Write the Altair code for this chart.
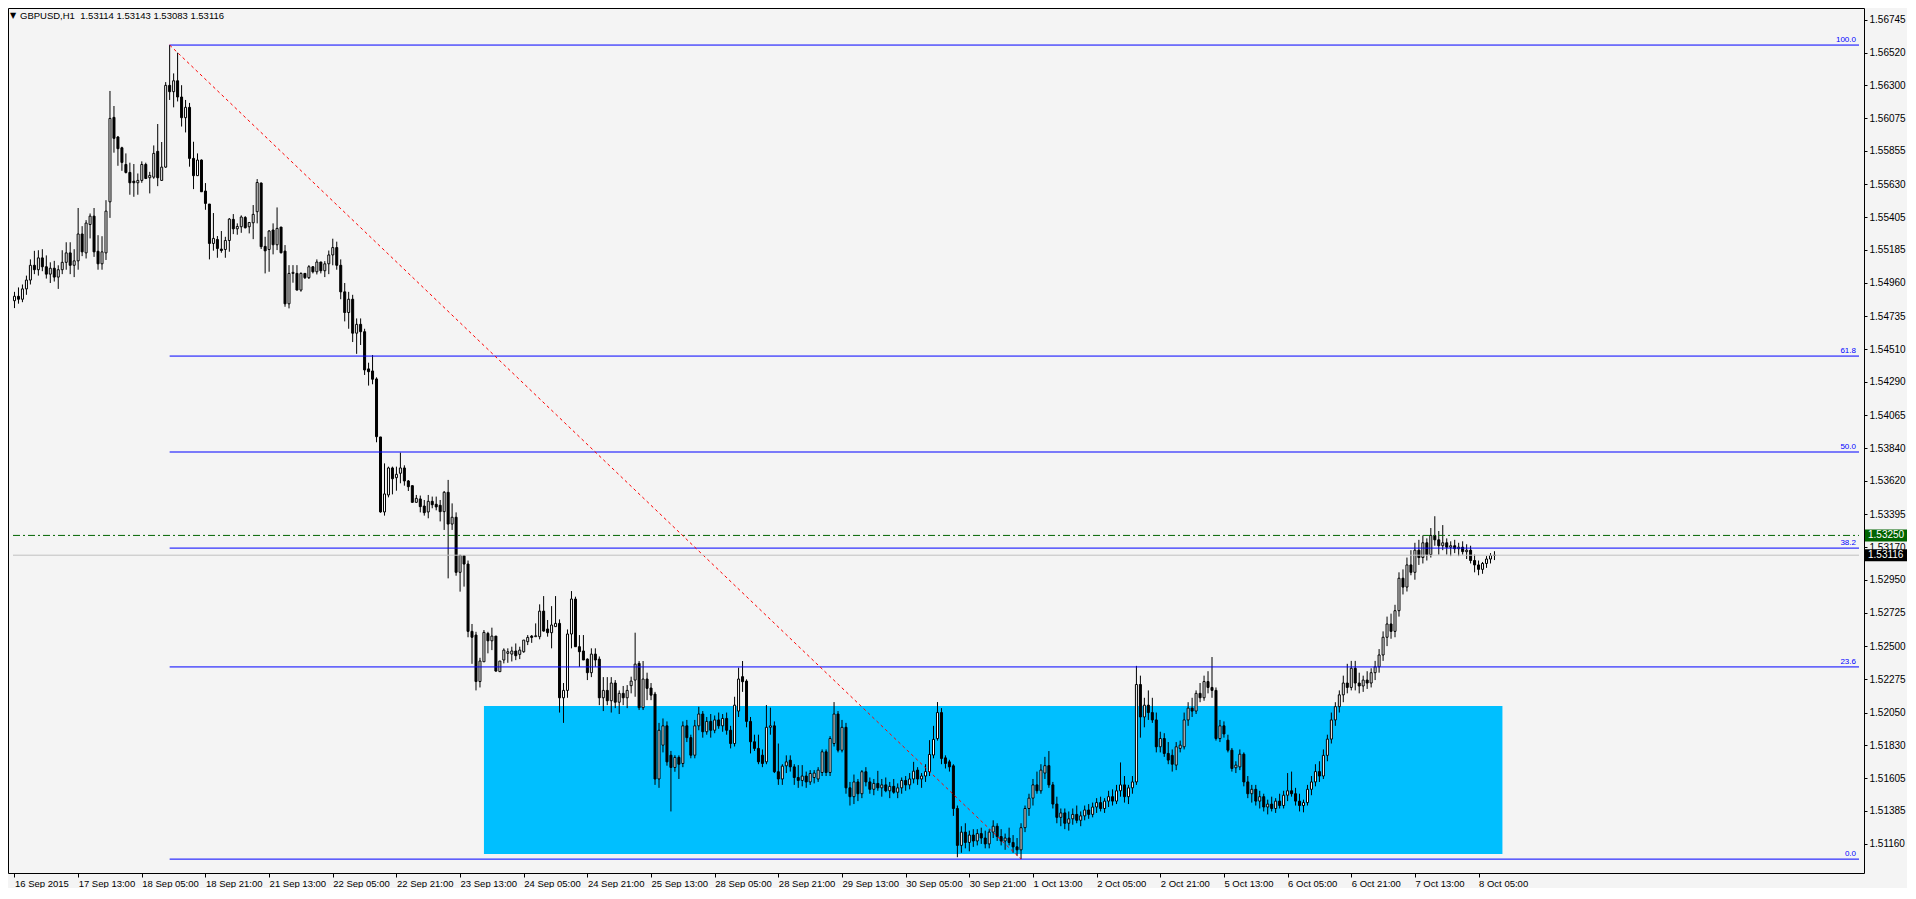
import json
import altair as alt
import pandas as pd

# ---------------- data (hourly GBPUSD candles) ----------------
OPEN = [
    1.54840, 1.54870, 1.54850, 1.54920, 1.54980, 1.55080, 1.55050, 1.55130, 1.55070, 1.55020,
    1.55060, 1.55000, 1.55050, 1.55100, 1.55164, 1.55080, 1.55110, 1.55292, 1.55164, 1.55356,
    1.55413, 1.55175, 1.55090, 1.55164, 1.55510, 1.56082, 1.55949, 1.55876, 1.55763, 1.55709,
    1.55650, 1.55639, 1.55655, 1.55763, 1.55673, 1.55677, 1.55852, 1.55655, 1.55745, 1.56299,
    1.56256, 1.56330, 1.56220, 1.56080, 1.56150, 1.55804, 1.55687, 1.55793, 1.55583, 1.55495,
    1.55228, 1.55255, 1.55190, 1.55187, 1.55248, 1.55391, 1.55327, 1.55341, 1.55404, 1.55341,
    1.55368, 1.55443, 1.55637, 1.55208, 1.55187, 1.55319, 1.55219, 1.55339, 1.55176, 1.54819,
    1.55025, 1.55025, 1.54912, 1.55025, 1.54996, 1.55070, 1.55036, 1.55102, 1.55043, 1.55090,
    1.55150, 1.55200, 1.55080, 1.54900, 1.54760, 1.54850, 1.54620, 1.54680, 1.54630, 1.54378,
    1.54364, 1.54310, 1.53917, 1.53409, 1.53524, 1.53707, 1.53641, 1.53671, 1.53707, 1.53619,
    1.53587, 1.53474, 1.53497, 1.53449, 1.53409, 1.53481, 1.53461, 1.53454, 1.53411, 1.53542,
    1.53327, 1.53373, 1.53000, 1.53113, 1.53056, 1.52600, 1.52575, 1.52260, 1.52394, 1.52586,
    1.52536, 1.52568, 1.52327, 1.52406, 1.52451, 1.52446, 1.52467, 1.52444, 1.52462, 1.52530,
    1.52568, 1.52564, 1.52564, 1.52737, 1.52616, 1.52591, 1.52632, 1.52654, 1.52150, 1.52200,
    1.52582, 1.52819, 1.52496, 1.52467, 1.52412, 1.52320, 1.52446, 1.52412, 1.52150, 1.52200,
    1.52130, 1.52250, 1.52120, 1.52180, 1.52150, 1.52232, 1.52270, 1.52383, 1.52083, 1.52277,
    1.52216, 1.52175, 1.51600, 1.51829, 1.51960, 1.51761, 1.51678, 1.51746, 1.51705, 1.51960,
    1.51880, 1.51761, 1.51960, 1.52040, 1.51920, 1.51990, 1.51930, 1.52000, 1.51960, 1.52010,
    1.51930, 1.51840, 1.52060, 1.52293, 1.52263, 1.51990, 1.51852, 1.51807, 1.51761, 1.51716,
    1.51950, 1.51960, 1.51649, 1.51600, 1.51689, 1.51727, 1.51682, 1.51610, 1.51590, 1.51620,
    1.51580, 1.51610, 1.51600, 1.51644, 1.51784, 1.51644, 1.51840, 1.52040, 1.51795, 1.51950,
    1.51540, 1.51480, 1.51580, 1.51500, 1.51649, 1.51580, 1.51530, 1.51570, 1.51540, 1.51560,
    1.51520, 1.51550, 1.51510, 1.51540, 1.51590, 1.51560, 1.51600, 1.51660, 1.51600, 1.51620,
    1.51650, 1.51762, 1.51874, 1.52050, 1.51743, 1.51716, 1.51689, 1.51400, 1.51150, 1.51240,
    1.51170, 1.51220, 1.51180, 1.51230, 1.51200, 1.51160, 1.51240, 1.51280, 1.51210, 1.51180,
    1.51200, 1.51170, 1.51140, 1.51120, 1.51270, 1.51400, 1.51470, 1.51560, 1.51520, 1.51640,
    1.51690, 1.51560, 1.51430, 1.51340, 1.51370, 1.51300, 1.51330, 1.51360, 1.51320, 1.51350,
    1.51390, 1.51360, 1.51410, 1.51440, 1.51400, 1.51450, 1.51480, 1.51450, 1.51520, 1.51560,
    1.51480, 1.51540, 1.51580, 1.52240, 1.52020, 1.52100, 1.52050, 1.52000, 1.51818, 1.51874,
    1.51773, 1.51760, 1.51694, 1.51807, 1.51818, 1.52000, 1.52080, 1.52060, 1.52180, 1.52150,
    1.52260, 1.52220, 1.52200, 1.51874, 1.51960, 1.51863, 1.51795, 1.51676, 1.51682, 1.51768,
    1.51580, 1.51500, 1.51530, 1.51450, 1.51480, 1.51410, 1.51430, 1.51400, 1.51450, 1.51420,
    1.51490, 1.51520, 1.51500, 1.51450, 1.51420, 1.51440, 1.51530, 1.51580, 1.51650, 1.51620,
    1.51760, 1.51870, 1.52000, 1.52090, 1.52170, 1.52250, 1.52220, 1.52350, 1.52250, 1.52230,
    1.52270, 1.52250, 1.52320, 1.52360, 1.52440, 1.52560, 1.52650, 1.52600, 1.52740, 1.52960,
    1.52900, 1.53050, 1.53000, 1.53150, 1.53100, 1.53200, 1.53120, 1.53250, 1.53220, 1.53180,
    1.53200, 1.53170, 1.53180, 1.53160, 1.53170, 1.53140, 1.53150, 1.53080, 1.53050, 1.53020,
    1.53060, 1.53090, 1.53114,
]
HIGH = [
    1.54900, 1.54930, 1.54950, 1.55010, 1.55120, 1.55178, 1.55182, 1.55189, 1.55147, 1.55100,
    1.55110, 1.55080, 1.55182, 1.55236, 1.55236, 1.55189, 1.55468, 1.55345, 1.55386, 1.55431,
    1.55468, 1.55284, 1.55277, 1.55521, 1.56261, 1.56159, 1.55956, 1.55883, 1.55838, 1.55775,
    1.55766, 1.55702, 1.55784, 1.55775, 1.55713, 1.55892, 1.56037, 1.55915, 1.56321, 1.56572,
    1.56380, 1.56520, 1.56300, 1.56200, 1.56180, 1.55917, 1.55838, 1.55797, 1.55637, 1.55495,
    1.55434, 1.55278, 1.55312, 1.55273, 1.55400, 1.55427, 1.55364, 1.55418, 1.55413, 1.55370,
    1.55488, 1.55664, 1.55641, 1.55273, 1.55319, 1.55364, 1.55472, 1.55339, 1.55217, 1.55081,
    1.55081, 1.55081, 1.55032, 1.55025, 1.55081, 1.55075, 1.55120, 1.55104, 1.55108, 1.55180,
    1.55260, 1.55240, 1.55120, 1.54960, 1.54900, 1.54880, 1.54720, 1.54720, 1.54650, 1.54420,
    1.54472, 1.54321, 1.53917, 1.53738, 1.53716, 1.53716, 1.53716, 1.53811, 1.53725, 1.53625,
    1.53587, 1.53524, 1.53520, 1.53490, 1.53524, 1.53513, 1.53513, 1.53490, 1.53551, 1.53626,
    1.53467, 1.53406, 1.53117, 1.53117, 1.53080, 1.52650, 1.52597, 1.52421, 1.52609, 1.52597,
    1.52625, 1.52568, 1.52399, 1.52485, 1.52485, 1.52496, 1.52518, 1.52496, 1.52541, 1.52575,
    1.52575, 1.52654, 1.52783, 1.52839, 1.52677, 1.52771, 1.52839, 1.52681, 1.52250, 1.52613,
    1.52873, 1.52835, 1.52575, 1.52575, 1.52417, 1.52485, 1.52485, 1.52430, 1.52290, 1.52290,
    1.52290, 1.52270, 1.52200, 1.52230, 1.52236, 1.52293, 1.52591, 1.52399, 1.52399, 1.52320,
    1.52250, 1.52190, 1.51980, 1.52010, 1.51990, 1.51790, 1.51761, 1.51760, 1.51990, 1.52000,
    1.51900, 1.52000, 1.52089, 1.52060, 1.52020, 1.52040, 1.52030, 1.52050, 1.52040, 1.52050,
    1.51960, 1.52157, 1.52354, 1.52399, 1.52275, 1.52020, 1.51900, 1.51900, 1.51800, 1.52101,
    1.52083, 1.51990, 1.51840, 1.51700, 1.51760, 1.51760, 1.51700, 1.51694, 1.51694, 1.51650,
    1.51660, 1.51660, 1.51680, 1.51800, 1.51800, 1.51890, 1.52121, 1.52060, 1.52000, 1.51980,
    1.51580, 1.51630, 1.51600, 1.51660, 1.51680, 1.51610, 1.51600, 1.51655, 1.51600, 1.51610,
    1.51580, 1.51600, 1.51570, 1.51610, 1.51620, 1.51640, 1.51716, 1.51680, 1.51640, 1.51700,
    1.51863, 1.51960, 1.52121, 1.52080, 1.51760, 1.51730, 1.51700, 1.51420, 1.51280, 1.51300,
    1.51250, 1.51260, 1.51260, 1.51270, 1.51250, 1.51260, 1.51320, 1.51300, 1.51260, 1.51230,
    1.51270, 1.51220, 1.51200, 1.51300, 1.51420, 1.51500, 1.51600, 1.51650, 1.51700, 1.51750,
    1.51789, 1.51580, 1.51480, 1.51400, 1.51400, 1.51380, 1.51400, 1.51420, 1.51380, 1.51420,
    1.51430, 1.51440, 1.51470, 1.51480, 1.51470, 1.51520, 1.51530, 1.51560, 1.51712, 1.51620,
    1.51560, 1.51620, 1.52366, 1.52300, 1.52150, 1.52200, 1.52150, 1.52050, 1.51920, 1.51910,
    1.51850, 1.51800, 1.51850, 1.51860, 1.52050, 1.52120, 1.52150, 1.52200, 1.52250, 1.52300,
    1.52330, 1.52426, 1.52220, 1.52000, 1.51990, 1.51900, 1.51810, 1.51720, 1.51800, 1.51780,
    1.51620, 1.51560, 1.51560, 1.51520, 1.51500, 1.51460, 1.51480, 1.51470, 1.51500, 1.51520,
    1.51640, 1.51650, 1.51540, 1.51500, 1.51460, 1.51560, 1.51620, 1.51700, 1.51720, 1.51800,
    1.51900, 1.52050, 1.52120, 1.52200, 1.52300, 1.52380, 1.52400, 1.52400, 1.52320, 1.52300,
    1.52330, 1.52350, 1.52400, 1.52480, 1.52600, 1.52700, 1.52720, 1.52780, 1.53000, 1.53020,
    1.53100, 1.53150, 1.53200, 1.53220, 1.53250, 1.53230, 1.53300, 1.53380, 1.53280, 1.53320,
    1.53230, 1.53210, 1.53220, 1.53200, 1.53210, 1.53190, 1.53180, 1.53120, 1.53080, 1.53070,
    1.53110, 1.53130, 1.53143,
]
LOW = [
    1.54790, 1.54820, 1.54830, 1.54880, 1.54950, 1.55020, 1.55010, 1.55040, 1.54990, 1.54960,
    1.54970, 1.54920, 1.55020, 1.55050, 1.55020, 1.55000, 1.55050, 1.55142, 1.55126, 1.55262,
    1.55137, 1.55050, 1.55050, 1.55116, 1.55401, 1.55843, 1.55754, 1.55720, 1.55702, 1.55558,
    1.55544, 1.55558, 1.55639, 1.55664, 1.55567, 1.55666, 1.55616, 1.55655, 1.55740, 1.56200,
    1.56150, 1.56190, 1.56020, 1.55980, 1.55748, 1.55596, 1.55687, 1.55578, 1.55456, 1.55120,
    1.55179, 1.55131, 1.55165, 1.55131, 1.55172, 1.55291, 1.55287, 1.55300, 1.55330, 1.55296,
    1.55257, 1.55364, 1.55190, 1.55025, 1.55036, 1.55154, 1.55183, 1.55160, 1.54799, 1.54788,
    1.54962, 1.54912, 1.54901, 1.54987, 1.54987, 1.55025, 1.55018, 1.55025, 1.55000, 1.55020,
    1.55080, 1.55050, 1.54850, 1.54700, 1.54650, 1.54560, 1.54480, 1.54540, 1.54337, 1.54265,
    1.54274, 1.53881, 1.53404, 1.53384, 1.53508, 1.53528, 1.53553, 1.53603, 1.53587, 1.53551,
    1.53474, 1.53474, 1.53406, 1.53384, 1.53366, 1.53434, 1.53420, 1.53345, 1.53287, 1.52959,
    1.53287, 1.52977, 1.52869, 1.52903, 1.52560, 1.52380, 1.52200, 1.52220, 1.52394, 1.52451,
    1.52473, 1.52327, 1.52327, 1.52383, 1.52387, 1.52396, 1.52405, 1.52412, 1.52455, 1.52507,
    1.52522, 1.52564, 1.52546, 1.52598, 1.52564, 1.52485, 1.52632, 1.52050, 1.51980, 1.52150,
    1.52485, 1.52496, 1.52360, 1.52406, 1.52270, 1.52290, 1.52360, 1.52100, 1.52060, 1.52100,
    1.52050, 1.52080, 1.52040, 1.52100, 1.52080, 1.52180, 1.52157, 1.52067, 1.52067, 1.52134,
    1.52134, 1.51560, 1.51540, 1.51780, 1.51690, 1.51380, 1.51649, 1.51600, 1.51680, 1.51850,
    1.51740, 1.51740, 1.51930, 1.51880, 1.51900, 1.51880, 1.51910, 1.51940, 1.51920, 1.51900,
    1.51807, 1.51820, 1.52020, 1.52190, 1.51950, 1.51773, 1.51790, 1.51700, 1.51680, 1.51700,
    1.51900, 1.51640, 1.51560, 1.51560, 1.51640, 1.51650, 1.51560, 1.51540, 1.51550, 1.51540,
    1.51560, 1.51570, 1.51580, 1.51620, 1.51620, 1.51620, 1.51820, 1.51780, 1.51780, 1.51500,
    1.51420, 1.51430, 1.51450, 1.51470, 1.51550, 1.51500, 1.51490, 1.51520, 1.51480, 1.51510,
    1.51470, 1.51500, 1.51470, 1.51500, 1.51520, 1.51530, 1.51570, 1.51560, 1.51540, 1.51580,
    1.51620, 1.51740, 1.51860, 1.51700, 1.51671, 1.51650, 1.51350, 1.51070, 1.51100, 1.51130,
    1.51110, 1.51140, 1.51150, 1.51160, 1.51130, 1.51130, 1.51200, 1.51180, 1.51150, 1.51120,
    1.51150, 1.51100, 1.51080, 1.51057, 1.51240, 1.51350, 1.51420, 1.51500, 1.51500, 1.51600,
    1.51540, 1.51400, 1.51300, 1.51280, 1.51260, 1.51250, 1.51290, 1.51300, 1.51280, 1.51320,
    1.51330, 1.51340, 1.51370, 1.51380, 1.51370, 1.51410, 1.51420, 1.51430, 1.51480, 1.51440,
    1.51430, 1.51500, 1.51560, 1.51880, 1.51950, 1.52000, 1.51980, 1.51780, 1.51780, 1.51750,
    1.51700, 1.51650, 1.51660, 1.51780, 1.51800, 1.51960, 1.52020, 1.52040, 1.52120, 1.52130,
    1.52180, 1.52150, 1.51860, 1.51850, 1.51880, 1.51780, 1.51650, 1.51640, 1.51660, 1.51550,
    1.51470, 1.51440, 1.51420, 1.51400, 1.51380, 1.51360, 1.51380, 1.51370, 1.51400, 1.51400,
    1.51450, 1.51480, 1.51420, 1.51380, 1.51374, 1.51420, 1.51490, 1.51550, 1.51580, 1.51600,
    1.51720, 1.51840, 1.51960, 1.52050, 1.52120, 1.52180, 1.52200, 1.52200, 1.52180, 1.52190,
    1.52210, 1.52220, 1.52270, 1.52320, 1.52400, 1.52500, 1.52550, 1.52560, 1.52700, 1.52850,
    1.52870, 1.52980, 1.52950, 1.53050, 1.53060, 1.53080, 1.53100, 1.53180, 1.53120, 1.53150,
    1.53120, 1.53110, 1.53130, 1.53110, 1.53120, 1.53090, 1.53060, 1.53000, 1.52980, 1.52990,
    1.53030, 1.53060, 1.53083,
]
CLOSE = [
    1.54870, 1.54850, 1.54920, 1.54980, 1.55080, 1.55050, 1.55130, 1.55070, 1.55020, 1.55060,
    1.55000, 1.55050, 1.55100, 1.55164, 1.55080, 1.55110, 1.55292, 1.55171, 1.55366, 1.55413,
    1.55171, 1.55090, 1.55171, 1.55447, 1.56075, 1.55940, 1.55870, 1.55777, 1.55709, 1.55639,
    1.55639, 1.55655, 1.55763, 1.55668, 1.55689, 1.55838, 1.55673, 1.55745, 1.56299, 1.56256,
    1.56330, 1.56220, 1.56080, 1.56150, 1.55804, 1.55687, 1.55793, 1.55578, 1.55499, 1.55228,
    1.55262, 1.55194, 1.55180, 1.55248, 1.55393, 1.55327, 1.55343, 1.55407, 1.55334, 1.55370,
    1.55425, 1.55641, 1.55206, 1.55178, 1.55312, 1.55219, 1.55330, 1.55165, 1.54819, 1.55025,
    1.55032, 1.54912, 1.55025, 1.54996, 1.55070, 1.55036, 1.55102, 1.55043, 1.55090, 1.55150,
    1.55200, 1.55080, 1.54900, 1.54760, 1.54850, 1.54620, 1.54680, 1.54630, 1.54371, 1.54359,
    1.54308, 1.53919, 1.53409, 1.53531, 1.53707, 1.53634, 1.53664, 1.53707, 1.53619, 1.53580,
    1.53474, 1.53501, 1.53445, 1.53404, 1.53481, 1.53458, 1.53443, 1.53411, 1.53542, 1.53327,
    1.53373, 1.53000, 1.53115, 1.53056, 1.52600, 1.52560, 1.52260, 1.52399, 1.52593, 1.52536,
    1.52568, 1.52331, 1.52399, 1.52473, 1.52462, 1.52467, 1.52435, 1.52473, 1.52541, 1.52559,
    1.52559, 1.52570, 1.52737, 1.52602, 1.52591, 1.52643, 1.52654, 1.52150, 1.52200, 1.52582,
    1.52819, 1.52496, 1.52462, 1.52406, 1.52320, 1.52446, 1.52406, 1.52150, 1.52200, 1.52130,
    1.52250, 1.52120, 1.52180, 1.52150, 1.52200, 1.52263, 1.52378, 1.52083, 1.52277, 1.52214,
    1.52168, 1.51600, 1.51930, 1.51960, 1.51716, 1.51678, 1.51746, 1.51700, 1.51960, 1.51880,
    1.51761, 1.51960, 1.52040, 1.51920, 1.51990, 1.51930, 1.52000, 1.51960, 1.52010, 1.51930,
    1.51840, 1.52100, 1.52277, 1.52259, 1.51990, 1.51852, 1.51807, 1.51716, 1.51705, 1.51950,
    1.51960, 1.51649, 1.51600, 1.51687, 1.51716, 1.51682, 1.51610, 1.51590, 1.51620, 1.51580,
    1.51637, 1.51640, 1.51660, 1.51784, 1.51644, 1.51874, 1.52040, 1.51795, 1.51950, 1.51540,
    1.51480, 1.51580, 1.51500, 1.51649, 1.51580, 1.51530, 1.51570, 1.51540, 1.51560, 1.51520,
    1.51550, 1.51510, 1.51540, 1.51590, 1.51560, 1.51600, 1.51653, 1.51600, 1.51620, 1.51650,
    1.51766, 1.51868, 1.52050, 1.51739, 1.51705, 1.51682, 1.51400, 1.51150, 1.51240, 1.51170,
    1.51220, 1.51180, 1.51230, 1.51200, 1.51160, 1.51240, 1.51280, 1.51210, 1.51180, 1.51200,
    1.51170, 1.51140, 1.51120, 1.51270, 1.51400, 1.51470, 1.51560, 1.51520, 1.51660, 1.51690,
    1.51560, 1.51430, 1.51340, 1.51370, 1.51300, 1.51330, 1.51360, 1.51320, 1.51350, 1.51390,
    1.51360, 1.51410, 1.51440, 1.51400, 1.51450, 1.51480, 1.51450, 1.51520, 1.51560, 1.51480,
    1.51540, 1.51580, 1.52240, 1.52020, 1.52100, 1.52050, 1.52000, 1.51818, 1.51874, 1.51773,
    1.51728, 1.51700, 1.51818, 1.51829, 1.52000, 1.52080, 1.52060, 1.52180, 1.52150, 1.52260,
    1.52220, 1.52200, 1.51874, 1.51960, 1.51905, 1.51795, 1.51671, 1.51694, 1.51768, 1.51580,
    1.51500, 1.51530, 1.51450, 1.51480, 1.51410, 1.51430, 1.51400, 1.51450, 1.51420, 1.51490,
    1.51520, 1.51500, 1.51450, 1.51420, 1.51440, 1.51530, 1.51580, 1.51650, 1.51620, 1.51760,
    1.51870, 1.52000, 1.52090, 1.52170, 1.52250, 1.52220, 1.52350, 1.52250, 1.52230, 1.52270,
    1.52250, 1.52320, 1.52360, 1.52440, 1.52560, 1.52650, 1.52600, 1.52740, 1.52960, 1.52900,
    1.53050, 1.53000, 1.53150, 1.53100, 1.53200, 1.53120, 1.53250, 1.53220, 1.53180, 1.53200,
    1.53170, 1.53180, 1.53160, 1.53170, 1.53140, 1.53150, 1.53080, 1.53050, 1.53020, 1.53060,
    1.53090, 1.53114, 1.53116,
]

X_LABELS = [
    "16 Sep 2015", "17 Sep 13:00", "18 Sep 05:00", "18 Sep 21:00", "21 Sep 13:00",
    "22 Sep 05:00", "22 Sep 21:00", "23 Sep 13:00", "24 Sep 05:00", "24 Sep 21:00",
    "25 Sep 13:00", "28 Sep 05:00", "28 Sep 21:00", "29 Sep 13:00", "30 Sep 05:00",
    "30 Sep 21:00", "1 Oct 13:00", "2 Oct 05:00", "2 Oct 21:00", "5 Oct 13:00",
    "6 Oct 05:00", "6 Oct 21:00", "7 Oct 13:00", "8 Oct 05:00",
]
X_LABEL_STEP = 16  # bars between time labels

Y_TICKS = [
    1.56745, 1.56520, 1.56300, 1.56075, 1.55855, 1.55630, 1.55405, 1.55185, 1.54960,
    1.54735, 1.54510, 1.54290, 1.54065, 1.53840, 1.53620, 1.53395, 1.53170, 1.52950,
    1.52725, 1.52500, 1.52275, 1.52050, 1.51830, 1.51605, 1.51385, 1.51160, 1.50935,
]

FIB_LABELS = ["100.0", "61.8", "50.0", "38.2", "23.6", "0.0"]
FIB_PRICES = [1.56572, 1.54465, 1.53815, 1.53164, 1.52359, 1.51057]
FIB_START_BAR = 39
FIB_END_BAR = 253

RECT_BARS = [118, 374]
RECT_PRICES = [1.52094, 1.51091]

ALERT_PRICE = 1.53250
ALERT_TEXT = "1.53250"
BID_PRICE = 1.53116
BID_TEXT = "1.53116"

SYMBOL_TEXT = "GBPUSD,H1"
QUOTE_TEXT = "1.53114 1.53143 1.53083 1.53116"

# ---------------- layout ----------------
W, H = 1856, 865
X_DOMAIN = [-0.375, 463.625]
Y_DOMAIN = [1.50963, 1.56823]
FONT = "Liberation Sans"

xs = alt.Scale(domain=X_DOMAIN, nice=False, zero=False)
ys = alt.Scale(domain=Y_DOMAIN, nice=False, zero=False)

n = len(OPEN)
assert len(HIGH) == n and len(LOW) == n and len(CLOSE) == n
candles = pd.DataFrame({"i": list(range(n)), "o": OPEN, "h": HIGH, "l": LOW, "c": CLOSE})
candles["h"] = candles[["h", "o", "c"]].max(axis=1)
candles["l"] = candles[["l", "o", "c"]].min(axis=1)

label_expr = json.dumps(X_LABELS) + "[round(datum.value / %d)]" % X_LABEL_STEP
X_AXIS = alt.Axis(
    values=[k * X_LABEL_STEP for k in range(len(X_LABELS))],
    labelExpr=label_expr, labelAlign="left", labelOverlap=False, labelFlush=False,
    labelBound=False, tickSize=4, labelPadding=1, grid=False, title=None, domain=False,
    labelFontSize=9.5, labelFont=FONT, labelColor="black", tickColor="black",
)
Y_AXIS = alt.Axis(
    orient="right", values=Y_TICKS, format=".5f", labelOverlap=False, labelFlush=False,
    labelBound=False, tickSize=3, labelPadding=2, grid=False, title=None, domain=False,
    labelFontSize=10, labelFont=FONT, labelColor="black", tickColor="black",
)


def X(field):
    return alt.X(field, scale=xs, axis=X_AXIS, title=None)


def Y(field):
    return alt.Y(field, scale=ys, axis=Y_AXIS, title=None)


rect_df = pd.DataFrame({"x1": [RECT_BARS[0]], "x2": [RECT_BARS[1]],
                        "p1": [RECT_PRICES[0]], "p2": [RECT_PRICES[1]]})
rect = alt.Chart(rect_df).mark_rect(color="#00BFFF", clip=True).encode(
    x=X("x1:Q"), x2="x2:Q", y=Y("p1:Q"), y2="p2:Q",
)

wicks = alt.Chart(candles).mark_rule(color="black", strokeWidth=1, clip=True).encode(
    x=X("i:Q"), y=Y("l:Q"), y2="h:Q",
)
bodies = alt.Chart(candles).mark_bar(size=2, stroke="black", strokeWidth=1, clip=True).encode(
    x=X("i:Q"), y=Y("o:Q"), y2="c:Q",
    fill=alt.condition("datum.c >= datum.o", alt.value("white"), alt.value("black")),
)

fib_df = pd.DataFrame({"p": FIB_PRICES, "lab": FIB_LABELS,
                       "x1": [FIB_START_BAR] * len(FIB_PRICES),
                       "x2": [X_DOMAIN[1]] * len(FIB_PRICES)})
fib_rules = alt.Chart(fib_df).mark_rule(color="#0000FF", strokeWidth=1, clip=True).encode(
    x=X("x1:Q"), x2="x2:Q", y=Y("p:Q"),
)
fib_text = alt.Chart(fib_df).mark_text(
    align="right", baseline="bottom", dx=-3, dy=-1, font=FONT, fontSize=8, color="#0000FF"
).encode(x=X("x2:Q"), y=Y("p:Q"), text="lab:N")

trend_df = pd.DataFrame({"x1": [FIB_START_BAR], "x2": [FIB_END_BAR],
                         "p1": [FIB_PRICES[0]], "p2": [FIB_PRICES[-1]]})
trend = alt.Chart(trend_df).mark_rule(color="#FF0000", strokeWidth=1, strokeDash=[3, 3], clip=True).encode(
    x=X("x1:Q"), x2="x2:Q", y=Y("p1:Q"), y2="p2:Q",
)

hl_df = pd.DataFrame({"p": [ALERT_PRICE], "x1": [X_DOMAIN[0]], "x2": [X_DOMAIN[1]]})
alert_line = alt.Chart(hl_df).mark_rule(color="#006400", strokeWidth=1, strokeDash=[7, 3, 2, 3]).encode(
    x=X("x1:Q"), x2="x2:Q", y=Y("p:Q"),
)
bid_df = pd.DataFrame({"p": [BID_PRICE], "x1": [X_DOMAIN[0]], "x2": [X_DOMAIN[1]]})
bid_line = alt.Chart(bid_df).mark_rule(color="#C0C0C0", strokeWidth=1).encode(
    x=X("x1:Q"), x2="x2:Q", y=Y("p:Q"),
)

box_df = pd.DataFrame({"p": [ALERT_PRICE, BID_PRICE], "t": [ALERT_TEXT, BID_TEXT],
                       "col": ["#006400", "#000000"]})
boxes = alt.Chart(box_df).mark_rect(height=12, clip=False).encode(
    x=alt.value(W + 1), x2=alt.value(W + 43), y=Y("p:Q"),
    fill=alt.Fill("col:N", scale=None),
)
box_text = alt.Chart(box_df).mark_text(
    align="left", baseline="middle", font=FONT, fontSize=10, color="white", clip=False
).encode(x=alt.value(W + 4), y=Y("p:Q"), text="t:N")

head_df = pd.DataFrame({"sym": ["\u25BC"], "t": [SYMBOL_TEXT + "\u00a0\u00a0" + QUOTE_TEXT]})
tri = alt.Chart(head_df).mark_text(align="center", baseline="middle", fontSize=8, font="DejaVu Sans",
                                   color="black").encode(x=alt.value(5), y=alt.value(8), text="sym:N")
head = alt.Chart(head_df).mark_text(align="left", baseline="middle", fontSize=9.5, font=FONT,
                                    color="black").encode(x=alt.value(12), y=alt.value(8), text="t:N")

chart = alt.layer(
    rect, wicks, bodies, fib_rules, trend, alert_line, bid_line, fib_text,
    tri, head, boxes, box_text,
).properties(
    width=W, height=H, padding=0, background="#F4F4F4",
).configure_view(
    stroke="black", strokeWidth=1, fill="#F4F4F4",
)

chart.save("out.html", embed_options={"renderer": "svg", "actions": False})
